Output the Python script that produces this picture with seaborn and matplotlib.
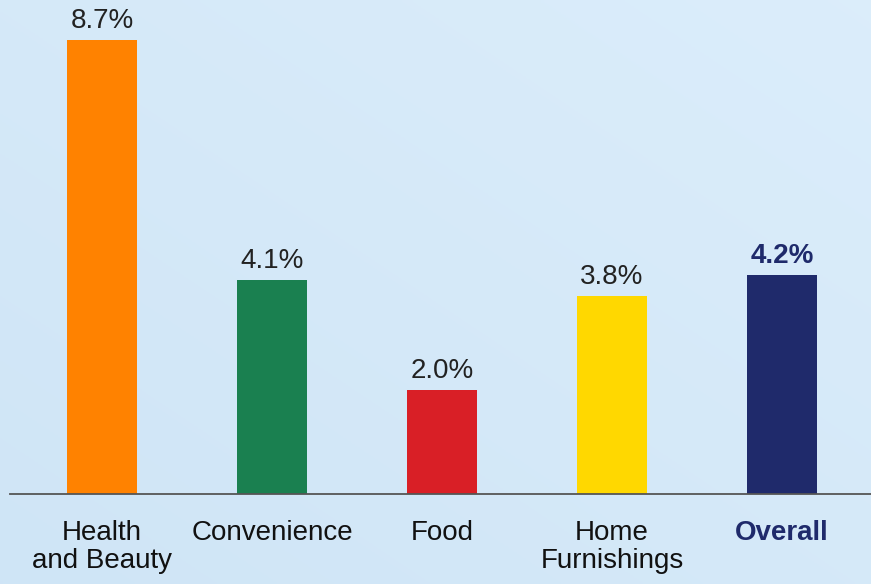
import numpy as np
import pandas as pd
import matplotlib
matplotlib.use("Agg")
import matplotlib.pyplot as plt
import seaborn as sns

categories = ["Health\nand Beauty", "Convenience", "Food", "Home\nFurnishings", "Overall"]
growth = [8.7, 4.1, 2.0, 3.8, 4.2]
value_labels = ["8.7%", "4.1%", "2.0%", "3.8%", "4.2%"]
bar_colors = ["#ff8200", "#1a8050", "#d91f26", "#ffd800", "#1f2a6b"]

df = pd.DataFrame({"category": categories, "growth": growth})

sns.set_theme(style="white")
plt.rcParams["font.family"] = ["Liberation Sans", "DejaVu Sans"]

fig = plt.figure(figsize=(8.71, 5.84), dpi=100)

# soft blue backdrop, slightly lighter towards the top right
bg = fig.add_axes([0, 0, 1, 1], zorder=-10)
yy, xx = np.mgrid[0:1:200j, 0:1:300j]
t = 0.5 * xx + 0.5 * (1 - yy)
c0 = np.array([0.812, 0.898, 0.965])
c1 = np.array([0.860, 0.930, 0.984])
img = c0[None, None, :] * (1 - t[..., None]) + c1[None, None, :] * t[..., None]
bg.imshow(img, aspect="auto", extent=[0, 1, 0, 1], origin="upper")
bg.axis("off")

ax = fig.add_axes([10 / 871, 90 / 584, 1 - 10 / 871, 494 / 584])
ax.patch.set_alpha(0)

sns.barplot(data=df, x="category", y="growth", hue="category",
            palette=bar_colors, width=70 / 170, saturation=1, legend=False,
            linewidth=0, edgecolor="none", ax=ax)

ax.set_xlim(-92 / 170, (871 - 102) / 170)
ax.set_ylim(0, 494 / 52.2)

for i, (v, lab) in enumerate(zip(growth, value_labels)):
    last = i == len(growth) - 1
    ax.annotate(lab, (i, v), xytext=(0, 4), textcoords="offset points",
                ha="center", va="bottom", fontsize=20,
                color="#1f2a6b" if last else "#222222",
                fontweight="bold" if last else "normal")

for s in ["top", "right", "left"]:
    ax.spines[s].set_visible(False)
ax.spines["bottom"].set_color("#555555")
ax.spines["bottom"].set_linewidth(1.3)

ax.set_yticks([])
ax.set_xlabel("")
ax.set_ylabel("")
ax.tick_params(axis="x", length=0, pad=19, labelsize=20, labelcolor="#111111")
for i, tl in enumerate(ax.get_xticklabels()):
    tl.set_linespacing(1.1)
    if i == len(categories) - 1:
        tl.set_color("#1f2a6b")
        tl.set_fontweight("bold")

fig.savefig("out.png", dpi=100)
